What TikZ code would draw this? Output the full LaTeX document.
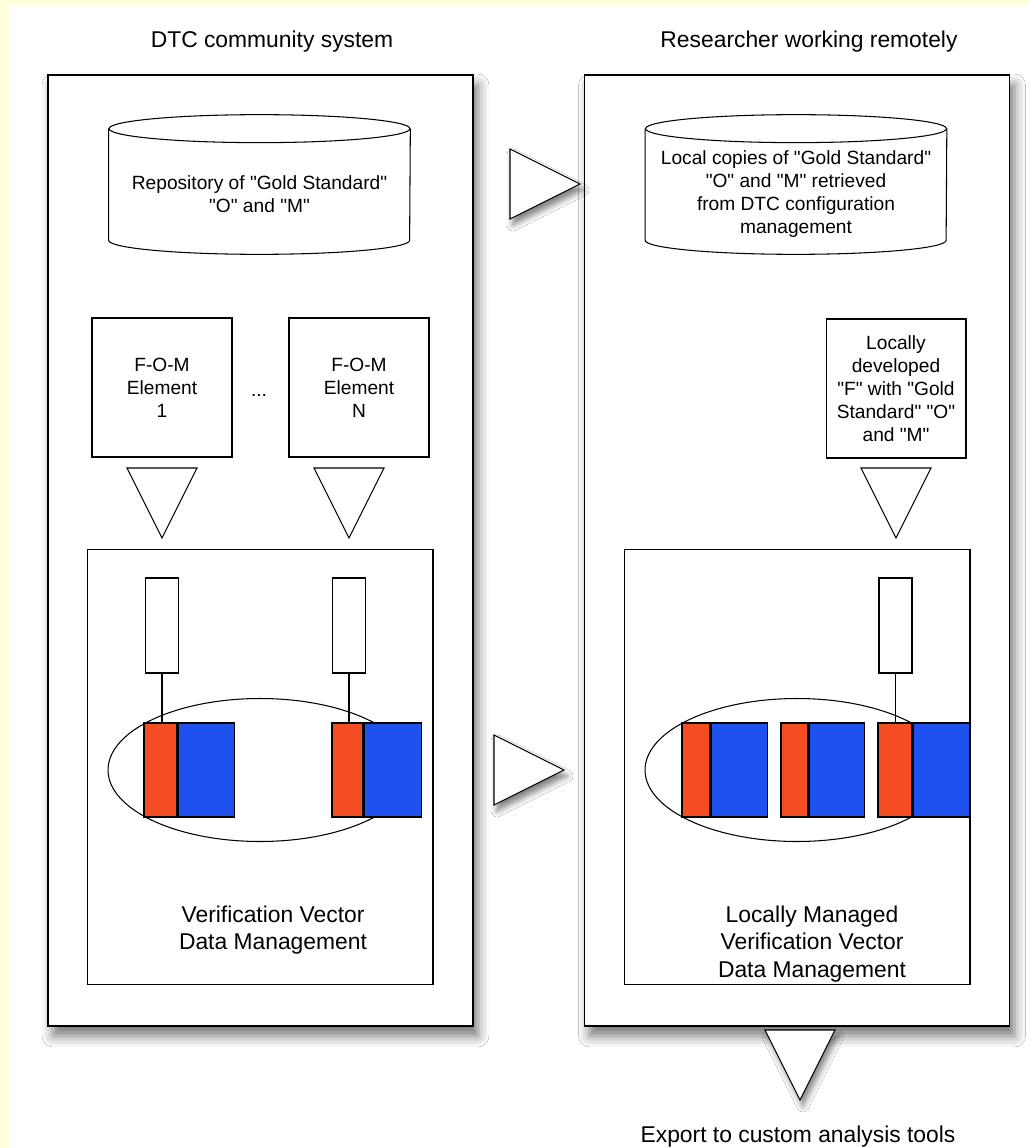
\documentclass[tikz,border=0pt]{standalone}
\usepackage{fontspec}
\setmainfont{Liberation Sans}[Ligatures=TeXOff]
\usetikzlibrary{shapes.geometric, positioning, shadows.blur}
\newcommand{\smalltxt}{\fontsize{10.9}{13}\selectfont}
\newcommand{\bigtxt}{\fontsize{13}{15.4}\selectfont}
\definecolor{pageyellow}{RGB}{255,255,222}
\definecolor{cellred}{RGB}{244,77,36}
\definecolor{cellblue}{RGB}{31,81,239}
\tikzset{
  panel/.style={rectangle, draw=black, line width=1pt, fill=white, minimum width=8.5cm, minimum height=19.02cm, inner sep=0pt,
    blur shadow={shadow xshift=0.1cm, shadow yshift=-0.2cm, shadow blur radius=0.22cm, shadow opacity=55}},
  heading/.style={font=\bigtxt, inner sep=0pt},
  caption/.style={font=\bigtxt, align=center, inner sep=0pt},
  drum/.style={rectangle, minimum width=6.02cm, minimum height=2.78cm, inner sep=0pt},
  drumline/.style={draw=black, line width=0.6pt},
  drumtext/.style={font=\smalltxt, align=center, yshift=-0.19cm},
  fombox/.style={rectangle, draw=black, line width=0.6pt, fill=white, minimum width=2.8cm, minimum height=2.78cm, inner sep=0pt, align=center, font=\smalltxt},
  flowtri/.style={isosceles triangle, isosceles triangle stretches, draw=black, line width=0.6pt, fill=white, minimum width=1.4cm, minimum height=1.4cm, inner sep=0pt, outer sep=0pt},
  shadowtri/.style={flowtri, blur shadow={shadow xshift=0.06cm, shadow yshift=-0.12cm, shadow blur radius=0.12cm, shadow opacity=50}},
  vvbox/.style={rectangle, draw=black, line width=0.6pt, fill=white, minimum width=6.92cm, minimum height=8.72cm, inner sep=0pt},
  pool/.style={ellipse, draw=black, line width=0.6pt, minimum width=6.08cm, minimum height=2.86cm, inner sep=0pt},
  slot/.style={rectangle, draw=black, line width=0.6pt, fill=white, minimum width=0.66cm, minimum height=1.9cm, inner sep=0pt},
  redcell/.style={rectangle, draw=black, line width=0.6pt, fill=cellred, minimum height=1.88cm, inner sep=0pt},
  bluecell/.style={rectangle, draw=black, line width=0.6pt, fill=cellblue, minimum height=1.88cm, minimum width=1.12cm, inner sep=0pt},
  wire/.style={line width=0.6pt}
}

\begin{document}
\begin{tikzpicture}[x=0.02cm, y=-0.02cm]
    \useasboundingbox (0,0) rectangle (1030,1148);
    \fill[white] (0,0) rectangle (1030,1148);
    \fill[pageyellow] (0,0) rectangle (1030,5);
    \fill[pageyellow] (0,0) rectangle (9,1148);

    % panels
    \node (dtc) [panel] at (260.5,550.5) {};
    \node (remote) [panel] at (797,550.5) {};
    \node (dtctitle) [heading, anchor=base] at (272,48) {DTC community system};
    \node (remotetitle) [heading, anchor=base] at (809,48) {Researcher working remotely};

    % repositories
    \node (gold) [drum, label={[drumtext]center:{Repository of "Gold Standard"\\"O" and "M"}}] at (259.5,184.5) {};
    \node (copies) [drum, label={[drumtext]center:{Local copies of "Gold Standard"\\"O" and "M" retrieved\\from DTC configuration\\management}}] at (796,184.5) {};
    \foreach \d in {gold, copies} {
      \draw[drumline] ([yshift=-0.28cm]\d.north) ellipse [x radius=3.01cm, y radius=0.28cm];
      \draw[drumline] ([yshift=-0.28cm]\d.north west) -- ([yshift=0.28cm]\d.south west)
        arc [start angle=180, end angle=360, x radius=3.01cm, y radius=0.28cm] -- ([yshift=-0.28cm]\d.north east);
    }

    % F-O-M elements
    \node (fom1) [fombox] at (162,387.5) {F-O-M\\Element\\1};
    \node (fomN) [fombox] at (359,387.5) {F-O-M\\Element\\N};
    \node (dots) [font=\smalltxt, anchor=base, inner sep=0pt] at (259,397) {...};
    \node (localF) [fombox] at (896,388.5) {Locally\\developed\\"F" with "Gold\\Standard" "O"\\and "M"};

    \node (feed1) [flowtri, shape border rotate=-90, anchor=apex] at (162,538) {};
    \node (feedN) [flowtri, shape border rotate=-90, anchor=apex] at (349,538) {};
    \node (feedF) [flowtri, shape border rotate=-90, anchor=apex] at (896,538) {};

    % verification vector data management
    \node (vvdm) [vvbox] at (260,767) {};
    \node (localvv) [vvbox] at (797,767) {};
    \node (vvpool) [pool] at (260,770) {};
    \node (localpool) [pool] at (797,770) {};

    \node (slot1) [slot] at (162,625.5) {};
    \node (slot2) [slot] at (349,625.5) {};
    \node (slot3) [slot] at (895.5,625.5) {};

    \node (red1) [redcell, minimum width=0.66cm] at (160.5,770) {};
    \node (blue1) [bluecell, right=0pt of red1] {};
    \node (red2) [redcell, minimum width=0.62cm] at (347.5,770) {};
    \node (blue2) [bluecell, minimum width=1.14cm, right=0pt of red2] {};
    \node (red3) [redcell, minimum width=0.56cm] at (696,770) {};
    \node (blue3) [bluecell, right=0pt of red3] {};
    \node (red4) [redcell, minimum width=0.54cm] at (794.5,770) {};
    \node (blue4) [bluecell, minimum width=1.1cm, right=0pt of red4] {};
    \node (red5) [redcell, minimum width=0.68cm] at (895,770) {};
    \node (blue5) [bluecell, right=0pt of red5] {};

    \draw[wire] (slot1.south) -- (slot1.south |- red1.north);
    \draw[wire] (slot2.south) -- (slot2.south |- red2.north);
    \draw[wire] (slot3.south) -- (slot3.south |- red5.north);

    \node (vvtext) [caption, anchor=north] at (273,906) {Verification Vector\\Data Management};
    \node (localvvtext) [caption, anchor=north] at (812,906) {Locally Managed\\Verification Vector\\Data Management};

    % transfers between the systems
    \node (pull) [shadowtri, anchor=apex] at (580,184) {};
    \node (sync) [shadowtri, anchor=apex] at (564,770) {};
    \node (export) [shadowtri, shape border rotate=-90, anchor=apex] at (800,1100) {};
    \node (exporttext) [heading, anchor=base] at (798,1142) {Export to custom analysis tools};
\end{tikzpicture}
\end{document}
